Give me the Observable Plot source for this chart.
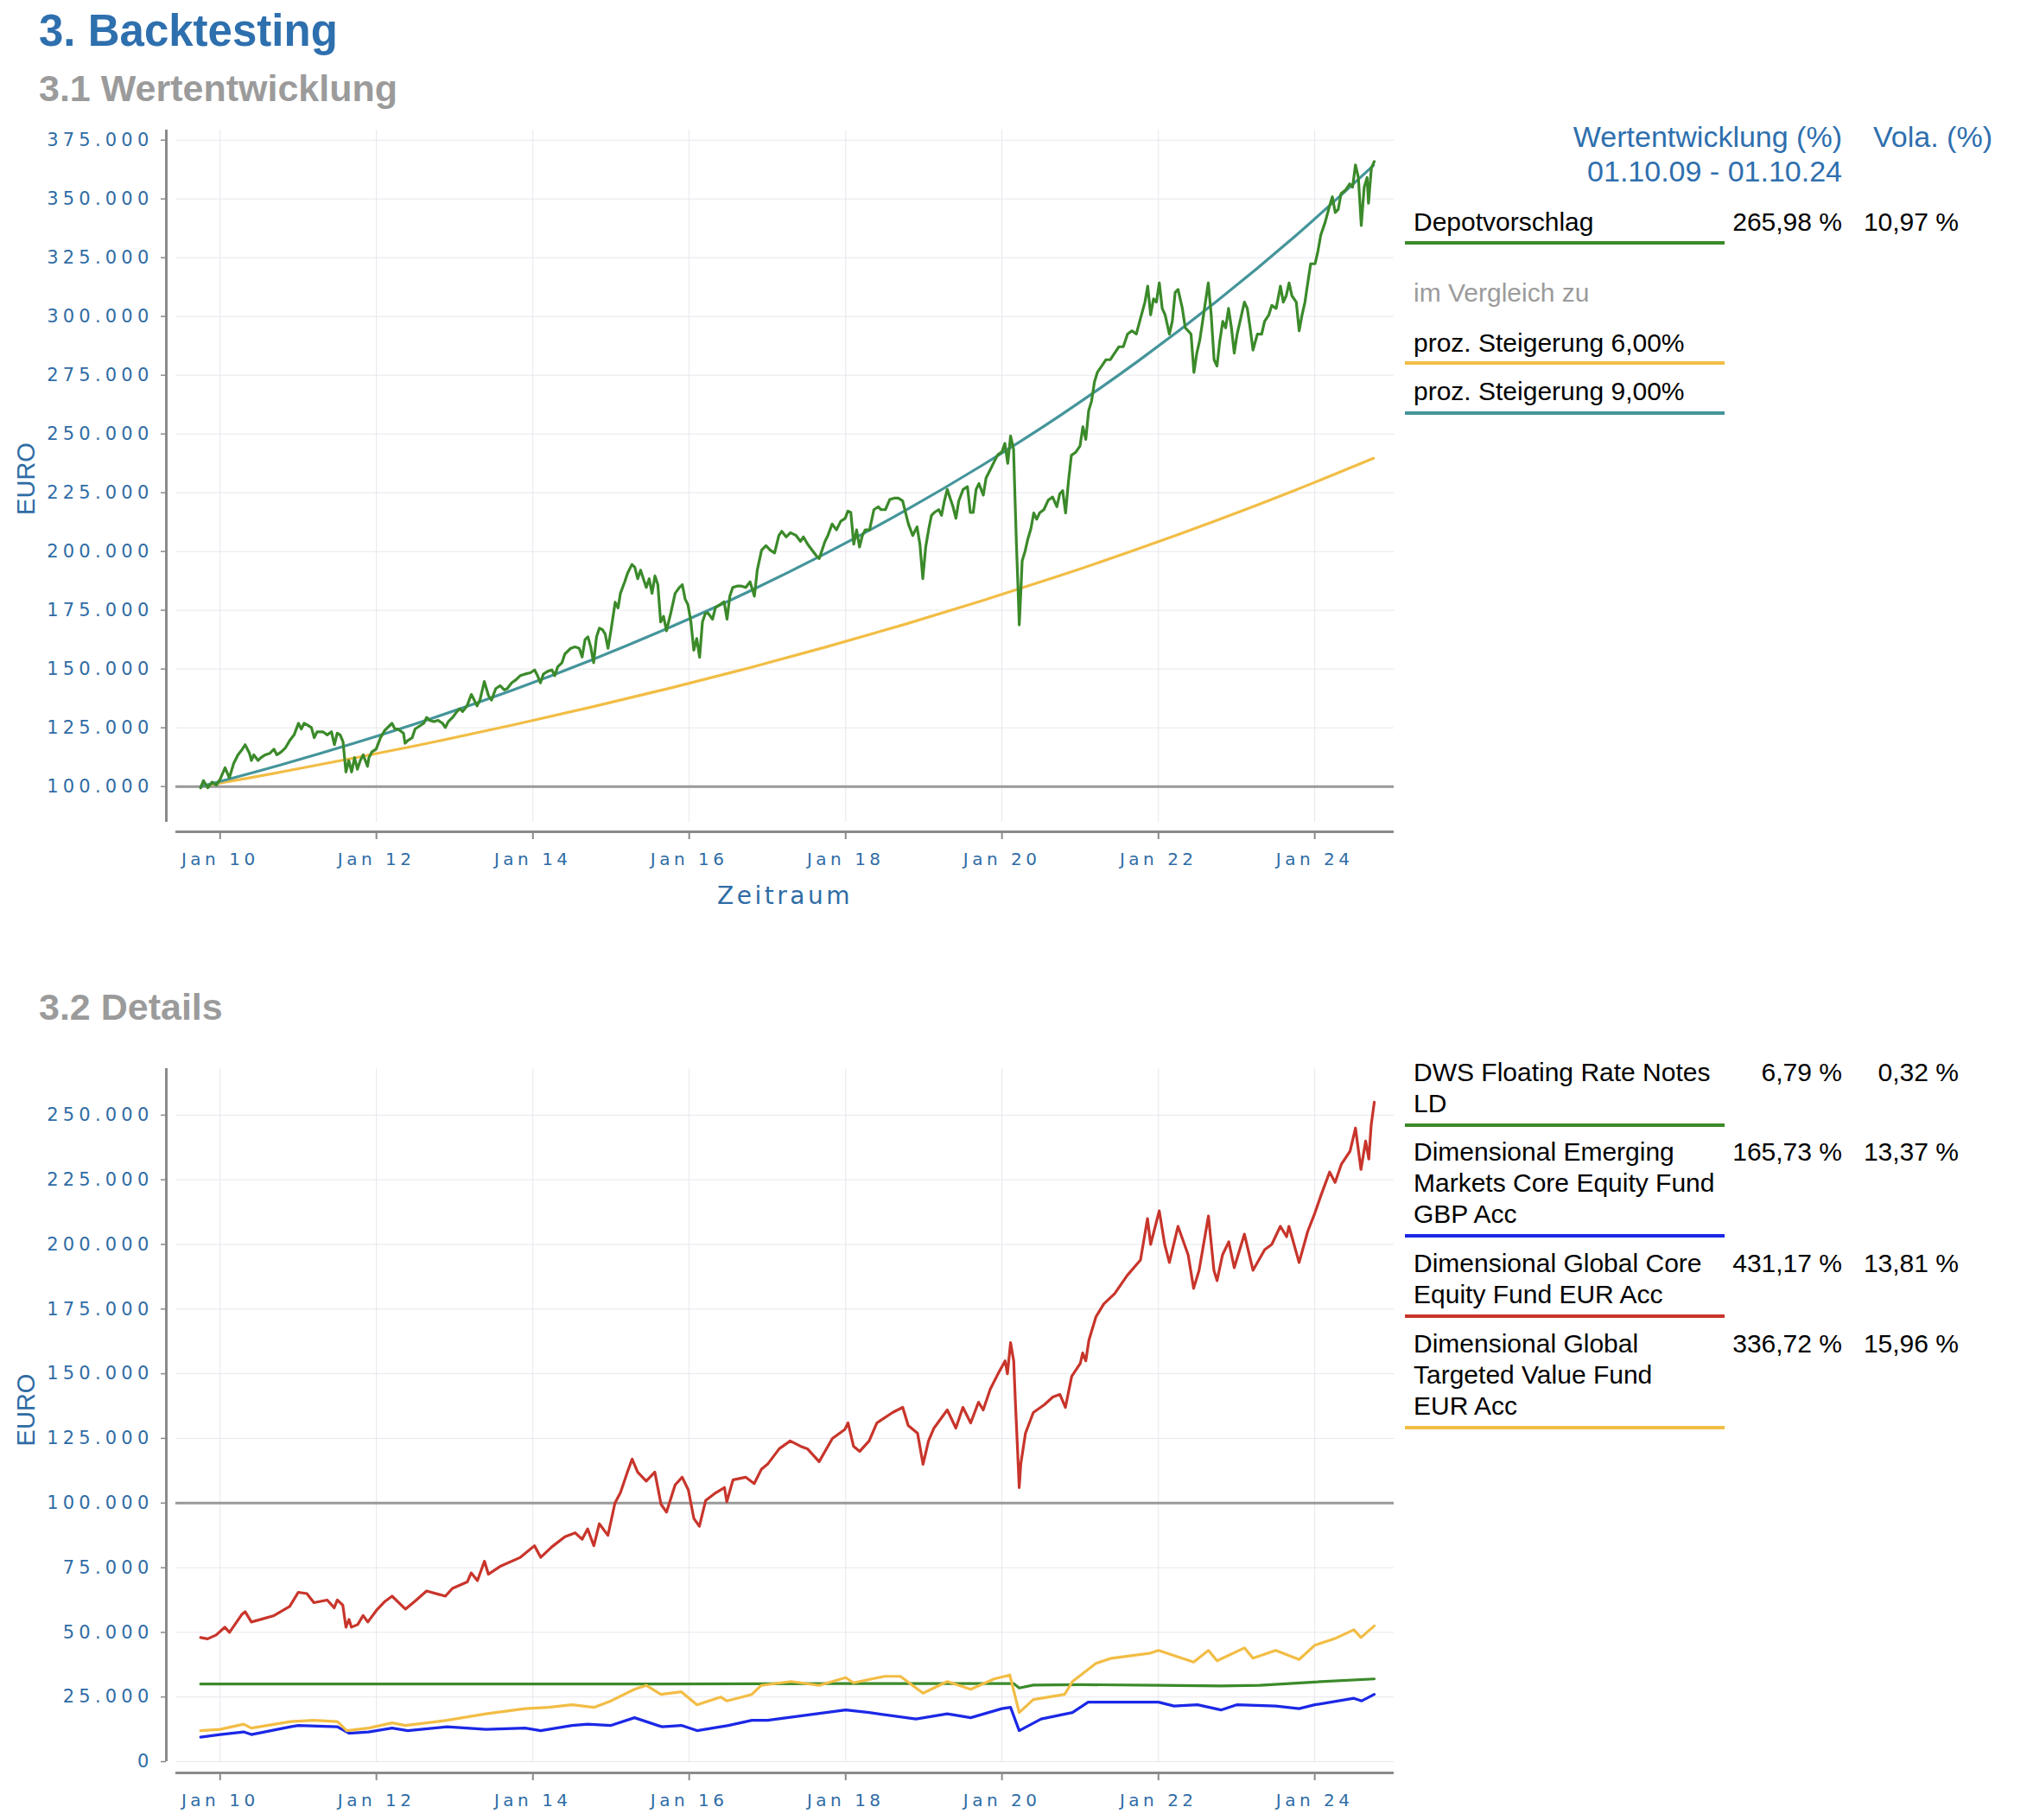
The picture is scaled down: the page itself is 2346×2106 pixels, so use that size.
<!DOCTYPE html>
<html>
<head>
<meta charset="utf-8">
<script src="https://cdn.jsdelivr.net/npm/d3@7"></script>
<script src="https://cdn.jsdelivr.net/npm/@observablehq/plot@0.6"></script>
<style>
  html, body { margin: 0; padding: 0; background: #ffffff; }
  #page { position: relative; width: 2346px; height: 2106px; overflow: hidden; font-family: "Liberation Sans", Arial, Helvetica, sans-serif; }
  .abs { position: absolute; white-space: nowrap; line-height: 1; }
  .chart { position: absolute; left: 0; }
  .chart svg { overflow: visible; }
  .chart g[aria-label="x-axis tick label"] text { letter-spacing: 4.5px; font-family: "DejaVu Sans", Verdana, sans-serif; }
  .chart g[aria-label="y-axis tick label"] text { letter-spacing: 5.2px; font-family: "DejaVu Sans", Verdana, sans-serif; }
  .chart .axislabel text { letter-spacing: 3.5px; font-family: "DejaVu Sans", Verdana, sans-serif; }
</style>
</head>
<body>
<div id="page"></div>
<script>
// ---------------- DATA ----------------
// Depotvorschlag (decimal year, EUR thousands)
const depotT = [2009.750,2009.786,2009.842,2009.897,2009.952,2010.000,2010.063,2010.118,2010.173,2010.228,2010.284,2010.320,2010.376,2010.401,2010.431,2010.486,2010.523,2010.578,2010.634,2010.689,2010.726,2010.781,2010.836,2010.891,2010.947,2011.002,2011.039,2011.075,2011.112,2011.168,2011.204,2011.241,2011.315,2011.370,2011.425,2011.462,2011.499,2011.536,2011.573,2011.610,2011.646,2011.683,2011.720,2011.757,2011.794,2011.831,2011.886,2011.904,2011.941,2011.996,2012.052,2012.107,2012.162,2012.199,2012.236,2012.273,2012.346,2012.365,2012.401,2012.457,2012.494,2012.549,2012.604,2012.641,2012.678,2012.733,2012.788,2012.844,2012.880,2012.917,2012.972,2013.028,2013.064,2013.101,2013.157,2013.212,2013.249,2013.285,2013.322,2013.378,2013.433,2013.470,2013.525,2013.580,2013.635,2013.672,2013.727,2013.783,2013.838,2013.893,2013.967,2014.022,2014.059,2014.096,2014.133,2014.188,2014.243,2014.280,2014.317,2014.372,2014.409,2014.446,2014.483,2014.538,2014.593,2014.630,2014.667,2014.704,2014.740,2014.777,2014.814,2014.851,2014.888,2014.925,2014.961,2014.998,2015.053,2015.090,2015.120,2015.175,2015.212,2015.267,2015.304,2015.341,2015.378,2015.414,2015.451,2015.488,2015.525,2015.562,2015.599,2015.635,2015.672,2015.709,2015.764,2015.820,2015.875,2015.912,2015.948,2015.985,2016.022,2016.059,2016.096,2016.133,2016.169,2016.206,2016.243,2016.298,2016.335,2016.390,2016.446,2016.483,2016.519,2016.556,2016.611,2016.667,2016.722,2016.777,2016.832,2016.869,2016.924,2016.980,2017.035,2017.090,2017.145,2017.182,2017.238,2017.293,2017.366,2017.422,2017.459,2017.514,2017.569,2017.624,2017.661,2017.698,2017.735,2017.772,2017.827,2017.882,2017.937,2017.993,2018.029,2018.066,2018.103,2018.140,2018.177,2018.214,2018.250,2018.306,2018.361,2018.416,2018.453,2018.508,2018.564,2018.619,2018.674,2018.729,2018.766,2018.803,2018.858,2018.913,2018.950,2018.987,2019.024,2019.061,2019.098,2019.134,2019.190,2019.227,2019.263,2019.300,2019.337,2019.374,2019.411,2019.447,2019.503,2019.558,2019.595,2019.632,2019.669,2019.705,2019.761,2019.797,2019.853,2019.908,2019.945,2020.000,2020.037,2020.074,2020.110,2020.148,2020.166,2020.185,2020.203,2020.221,2020.240,2020.258,2020.295,2020.332,2020.369,2020.406,2020.443,2020.480,2020.535,2020.590,2020.646,2020.701,2020.738,2020.775,2020.812,2020.849,2020.886,2020.941,2020.996,2021.033,2021.070,2021.107,2021.144,2021.181,2021.218,2021.273,2021.328,2021.384,2021.439,2021.494,2021.550,2021.605,2021.661,2021.716,2021.771,2021.827,2021.863,2021.900,2021.937,2021.974,2022.011,2022.048,2022.085,2022.140,2022.177,2022.214,2022.251,2022.306,2022.343,2022.380,2022.417,2022.454,2022.491,2022.528,2022.565,2022.601,2022.638,2022.675,2022.712,2022.749,2022.786,2022.823,2022.860,2022.897,2022.934,2022.970,2023.007,2023.044,2023.100,2023.137,2023.173,2023.210,2023.266,2023.321,2023.358,2023.413,2023.450,2023.506,2023.561,2023.598,2023.635,2023.672,2023.708,2023.764,2023.801,2023.838,2023.875,2023.911,2023.948,2024.004,2024.041,2024.077,2024.133,2024.188,2024.225,2024.262,2024.299,2024.336,2024.391,2024.446,2024.483,2024.520,2024.557,2024.594,2024.631,2024.668,2024.686,2024.723,2024.760];
const depotV = [99.4,102.5,99.5,101.9,100.6,103.1,108.0,103.7,109.8,113.5,115.9,117.8,114.1,111.1,113.5,111.1,112.3,113.5,114.1,115.9,113.5,114.7,116.5,119.6,122.0,126.9,124.5,126.9,126.3,125.1,120.8,123.3,123.3,122.0,123.3,117.8,122.7,122.0,119.0,106.2,111.1,106.2,112.3,107.4,111.1,113.5,108.6,112.3,114.7,115.9,120.8,123.9,125.7,126.9,124.5,124.5,122.7,118.4,119.6,120.8,124.5,125.7,126.9,129.4,128.2,127.6,128.2,126.9,125.1,127.6,129.4,131.9,133.1,131.9,134.3,139.2,136.8,134.3,136.8,144.7,138.6,136.8,141.7,142.9,141.1,141.7,144.1,145.4,147.2,147.8,148.4,149.6,147.2,144.1,147.8,149.0,149.6,147.2,150.9,152.7,156.4,157.6,158.8,159.4,158.8,155.1,162.5,163.7,159.4,152.7,163.7,167.4,166.8,164.9,158.8,166.2,178.4,176.0,182.2,187.1,190.8,194.5,193.3,188.4,192.1,188.4,184.7,188.4,182.2,189.6,185.9,170.0,172.4,166.3,173.7,182.2,184.7,185.9,179.8,177.3,170.0,158.0,163.0,155.0,170.0,173.7,173.7,171.2,176.1,177.3,178.6,171.2,181.0,184.7,185.3,185.3,184.7,187.1,181.0,192.1,200.6,202.5,200.6,199.4,206.8,208.6,206.2,208.0,206.8,204.3,206.2,203.1,200.6,198.2,197.0,200.6,204.3,206.8,211.7,209.2,212.9,214.1,217.2,216.6,203.1,209.2,201.9,206.8,209.2,209.2,217.8,219.0,217.8,217.8,222.1,222.7,222.7,221.5,216.6,211.7,206.8,210.5,203.1,188.4,201.9,209.2,215.4,216.6,217.8,215.4,221.5,226.4,222.7,219.0,214.1,221.5,226.4,227.6,216.6,216.6,226.4,228.9,224.0,231.3,235.0,238.7,241.1,242.4,246.0,237.5,249.1,243.6,223.2,202.8,186.5,168.8,182.4,196.0,200.1,205.5,209.6,216.4,213.7,216.4,217.8,221.8,223.2,219.1,224.6,225.9,216.4,230.0,240.9,242.2,244.9,253.1,247.7,259.9,264.0,272.1,276.2,278.9,281.6,281.6,284.4,287.1,287.1,292.5,293.9,292.5,299.3,306.1,312.9,300.7,307.5,306.1,314.3,303.4,300.7,292.5,297.9,310.2,311.5,303.4,295.2,293.9,292.5,276.2,284.4,289.8,297.9,306.1,314.3,300.7,281.6,278.9,289.8,297.9,295.2,303.4,295.2,284.4,292.5,297.9,306.1,303.4,295.2,285.7,292.5,292.5,297.9,300.7,304.7,303.4,312.9,306.1,308.8,314.3,308.8,306.1,293.9,300.7,306.1,314.3,322.4,322.4,327.8,334.6,340.1,346.9,350.9,344.2,345.5,352.3,353.7,356.4,355.0,364.5,359.1,338.7,355.0,359.1,348.2,363.2,365.9];

// Comparison curves (value on 1 Oct of each year, EUR thousands)
const compareT = [2009.75,2010.75,2011.75,2012.75,2013.75,2014.75,2015.75,2016.75,2017.75,2018.75,2019.75,2020.75,2021.75,2022.75,2023.75,2024.75];
const steig6V = [100,106,112.36,119.10,126.25,133.82,141.85,150.36,159.38,168.95,179.08,189.83,201.22,213.29,226.09,239.66];
const steig9V = [100,109,118.81,129.50,141.16,153.86,167.71,182.80,199.26,217.19,236.74,258.04,281.27,306.58,334.17,364.25];

// Details: individual funds (decimal year, EUR thousands)
const dwsT = [2009.75,2012.0,2015.0,2018.0,2020.15,2020.22,2020.4,2021.0,2022.0,2022.8,2023.3,2024.0,2024.76];
const dwsV = [30,30,30,30.2,30.2,28.5,29.6,29.8,29.5,29.3,29.5,30.8,32];

const emT = [2009.75,2010.0,2010.3,2010.4,2010.9,2011.0,2011.5,2011.65,2011.9,2012.2,2012.4,2012.9,2013.4,2013.9,2014.1,2014.5,2014.7,2015.0,2015.3,2015.65,2015.9,2016.1,2016.5,2016.8,2017.0,2017.5,2018.0,2018.3,2018.9,2019.3,2019.6,2020.0,2020.11,2020.22,2020.5,2020.9,2021.1,2021.5,2022.0,2022.2,2022.5,2022.8,2023.0,2023.5,2023.8,2024.0,2024.5,2024.6,2024.76];
const emV = [9.5,10.5,11.5,10.5,13.5,14,13.5,11,11.5,13,12,13.5,12.5,13,12,14,14.5,14,17,13.5,14,12,14,16,16,18,20,19,16.5,18.5,17,20.5,21,12,16.5,19,23,23,23,21.5,22,20,22,21.5,20.5,22,24.5,23.5,26];

const coreT = [2009.75,2009.84,2009.95,2010.06,2010.12,2010.28,2010.32,2010.4,2010.52,2010.69,2010.89,2011.0,2011.11,2011.2,2011.37,2011.46,2011.5,2011.57,2011.61,2011.65,2011.68,2011.76,2011.83,2011.89,2012.0,2012.11,2012.2,2012.37,2012.49,2012.64,2012.88,2012.97,2013.16,2013.21,2013.29,2013.38,2013.43,2013.58,2013.84,2014.02,2014.1,2014.24,2014.41,2014.54,2014.63,2014.7,2014.78,2014.85,2014.96,2015.05,2015.12,2015.21,2015.27,2015.34,2015.45,2015.56,2015.64,2015.71,2015.82,2015.91,2015.99,2016.06,2016.13,2016.21,2016.34,2016.45,2016.48,2016.56,2016.72,2016.83,2016.92,2017.0,2017.15,2017.29,2017.42,2017.51,2017.66,2017.83,2017.99,2018.03,2018.1,2018.18,2018.3,2018.4,2018.6,2018.73,2018.8,2018.92,2018.99,2019.06,2019.13,2019.3,2019.41,2019.5,2019.6,2019.7,2019.76,2019.85,2019.95,2020.04,2020.07,2020.11,2020.15,2020.17,2020.2,2020.22,2020.24,2020.3,2020.4,2020.54,2020.65,2020.74,2020.81,2020.89,2021.0,2021.03,2021.07,2021.11,2021.2,2021.3,2021.44,2021.6,2021.77,2021.86,2021.9,2022.01,2022.08,2022.14,2022.25,2022.38,2022.45,2022.52,2022.64,2022.71,2022.75,2022.82,2022.9,2022.97,2023.1,2023.21,2023.36,2023.45,2023.56,2023.64,2023.67,2023.8,2023.91,2024.0,2024.08,2024.19,2024.26,2024.34,2024.45,2024.52,2024.59,2024.65,2024.69,2024.72,2024.76];
const coreV = [48,47.5,49,52,50,57,58,54,55,56.5,60,65.5,65,61.5,62.5,59.5,62.5,60.5,52,55,52,53,56.5,54,58.5,62,64,59,62,66,64,67,69.5,73,70,77.5,72.5,75.5,79,83.5,79,83,87,88.5,86,90,83.5,92,87.5,100,104,112,117,112,108.5,112,99.5,96.5,107,110,105,94,91,101,104,106,100.5,109,110,107.5,113,115,121,124,122,121,116,125,128.5,131,122,120,124,131,135,137,130,127,115,124,129,136,129,137,131,139,136,144,150,155,150,162,155,140,120,106,115,127,135,138,141,142,137,149,154,158,155,163,172,177,181,188,194,210,200,213,200,193,207,196,183,190,211,190,186,196,201,191,204,190,198,200,207,203,207,193,205,212,219,228,224,231,236,245,229,240,233,246,255];

const tvT = [2009.75,2010.0,2010.3,2010.4,2010.9,2011.2,2011.5,2011.62,2011.9,2012.2,2012.37,2012.9,2013.4,2013.9,2014.2,2014.5,2014.78,2015.0,2015.3,2015.45,2015.64,2015.9,2016.1,2016.4,2016.48,2016.8,2016.92,2017.3,2017.66,2018.0,2018.1,2018.5,2018.7,2018.99,2019.3,2019.6,2019.9,2020.1,2020.22,2020.4,2020.8,2020.9,2021.2,2021.4,2021.9,2022.0,2022.45,2022.64,2022.75,2023.1,2023.21,2023.5,2023.8,2024.0,2024.25,2024.5,2024.59,2024.76];
const tvV = [12,12.5,14.5,13,15.5,16,15.5,12,13,15,14,16,18.5,20.5,21,22,21,23.5,28,29.5,26,27,22,25,23.5,26,29.5,31,29.5,32.5,30.5,33,33,26.5,31,28,32,33.5,19,24,26,31,38,40,42,43,38.5,43,39,44,40,43,39.5,45,47.5,51,48,52.5];

// Axis ticks
const xTickYears = [2010,2012,2014,2016,2018,2020,2022,2024];
const yTicksTop = [100000,125000,150000,175000,200000,225000,250000,275000,300000,325000,350000,375000];
const yTicksBottom = [0,25000,50000,75000,100000,125000,150000,175000,200000,225000,250000];

// Legend texts
const headerReturn = ["Wertentwicklung (%)", "01.10.09 - 01.10.24"];
const headerVola = "Vola. (%)";
const depotName = "Depotvorschlag";
const depotReturn = "265,98 %";
const depotVola = "10,97 %";
const compareLabel = "im Vergleich zu";
const compareNames = ["proz. Steigerung 6,00%", "proz. Steigerung 9,00%"];
const fundNames = [["DWS Floating Rate Notes", "LD"], ["Dimensional Emerging", "Markets Core Equity Fund", "GBP Acc"], ["Dimensional Global Core", "Equity Fund EUR Acc"], ["Dimensional Global", "Targeted Value Fund", "EUR Acc"]];
const fundReturns = ["6,79 %", "165,73 %", "431,17 %", "336,72 %"];
const fundVolas = ["0,32 %", "13,37 %", "13,81 %", "15,96 %"];

// ---------------- STYLE ----------------
const C = {
  title: "#2e6fae", sub: "#9b9b9b", tick: "#2f6ca5", axis: "#8a8a8a", grid: "#e8e6ed", base: "#999999",
  depot: "#3b8a2a", s6: "#f2bd45", s9: "#44959a",
  dws: "#3b8a2a", em: "#1b28e6", core: "#c8352b", tv: "#f2bd45"
};
const FONT = "'Liberation Sans', Arial, Helvetica, sans-serif";

function toDate(t) {
  const y = Math.floor(t);
  const a = Date.UTC(y, 0, 1), b = Date.UTC(y + 1, 0, 1);
  return new Date(a + (t - y) * (b - a));
}
function series(ts, vs) { return ts.map((t, i) => ({date: toDate(t), value: vs[i] * 1000})); }

const de = d3.formatLocale({decimal: ",", thousands: ".", grouping: [3], currency: ["", " €"]});
const fmtEuro = de.format(",d");
const fmtJan = d => "Jan " + String(d.getUTCFullYear()).slice(2);
const xTicks = xTickYears.map(y => new Date(Date.UTC(y, 0, 1)));
const xDomain = [toDate(2009.433), toDate(2025.013)];

const page = document.getElementById("page");

function addText(txt, x, baseline, size, opts = {}) {
  const d = document.createElement("div");
  d.className = "abs";
  d.textContent = txt;
  d.style.fontSize = size + "px";
  d.style.top = (baseline - 0.8465 * size) + "px";
  d.style.color = opts.color || "#000";
  if (opts.bold) d.style.fontWeight = "bold";
  d.style.left = x + "px";
  if (opts.right) d.style.transform = "translateX(-100%)";
  page.appendChild(d);
}
function addBar(x, y, w, color) {
  const d = document.createElement("div");
  d.style.position = "absolute";
  d.style.left = x + "px"; d.style.top = (y - 2) + "px";
  d.style.width = w + "px"; d.style.height = "4px";
  d.style.background = color;
  page.appendChild(d);
}

function chart({yDomain, yTicks, lines, top, height, marginBottom, showXLabel, xAxisDy, labelDy}) {
  const svg = Plot.plot({
    width: 1640, height,
    marginLeft: 203, marginRight: 27, marginTop: 20, marginBottom,
    style: {fontFamily: FONT, background: "transparent", overflow: "visible"},
    x: {type: "utc", domain: xDomain},
    y: {domain: yDomain},
    marks: [
      Plot.gridX(xTicks, {stroke: C.grid, strokeOpacity: 1, strokeWidth: 1}),
      Plot.gridY(yTicks.filter(v => v !== 100000), {stroke: C.grid, strokeOpacity: 1, strokeWidth: 1}),
      Plot.ruleY([100000], {stroke: C.base, strokeWidth: 3}),
      ...lines.map(l => Plot.line(l.data, {x: "date", y: "value", stroke: l.color, strokeWidth: 3.2, strokeLinejoin: "round", curve: l.curve || "linear"})),
      Plot.ruleX([xDomain[0]], {dx: -11, stroke: C.axis, strokeWidth: 3}),
      Plot.ruleY([yDomain[0]], {dy: xAxisDy, stroke: C.axis, strokeWidth: 3}),
      Plot.axisY(yTicks, {tickSize: 6, dx: -11, tickPadding: 9, tickFormat: fmtEuro, stroke: C.axis, strokeWidth: 1.5, fill: C.tick, fontSize: 21, label: null}),
      Plot.axisX(xTicks, {tickSize: 9, dy: xAxisDy, tickPadding: 15, tickFormat: fmtJan, stroke: C.axis, strokeWidth: 2, fill: C.tick, fontSize: 20, label: null}),
      Plot.text(["EURO"], {frameAnchor: "left", textAnchor: "middle", lineAnchor: "middle", dx: -173, dy: labelDy, rotate: -90, fontSize: 29, fill: C.tick}),
      showXLabel ? Plot.text(["Zeitraum"], {frameAnchor: "bottom", textAnchor: "middle", lineAnchor: "middle", dy: 86, fontSize: 28, fill: C.tick, className: "axislabel"}) : null
    ].filter(Boolean)
  });
  const wrap = document.createElement("div");
  wrap.className = "chart";
  wrap.style.top = top + "px";
  wrap.appendChild(svg);
  page.appendChild(wrap);
}

// ---------------- TITLES ----------------
addText("3. Backtesting", 45, 53, 51, {bold: true, color: C.title});
addText("3.1 Wertentwicklung", 45, 117, 43, {bold: true, color: C.sub});
addText("3.2 Details", 45, 1180, 43, {bold: true, color: C.sub});

// ---------------- TOP CHART ----------------
chart({
  yDomain: [84800, 379300], yTicks: yTicksTop, top: 130, height: 940, marginBottom: 119, showXLabel: true, xAxisDy: 11, labelDy: 3,
  lines: [
    {data: series(compareT, steig6V), color: C.s6, curve: "catmull-rom"},
    {data: series(compareT, steig9V), color: C.s9, curve: "catmull-rom"},
    {data: series(depotT, depotV), color: C.depot}
  ]
});

// ---------------- BOTTOM CHART ----------------
chart({
  yDomain: [0, 268000], yTicks: yTicksBottom, top: 1216, height: 890, marginBottom: 68, showXLabel: false, xAxisDy: 13, labelDy: -6,
  lines: [
    {data: series(dwsT, dwsV), color: C.dws},
    {data: series(emT, emV), color: C.em},
    {data: series(coreT, coreV), color: C.core},
    {data: series(tvT, tvV), color: C.tv}
  ]
});

// ---------------- LEGENDS ----------------
const LX = 1636, BAR_X = 1626, BAR_W = 370, RET_R = 2132, VOL_R = 2267;
addText(headerReturn[0], RET_R, 170, 34, {color: C.title, right: true});
addText(headerReturn[1], RET_R, 210, 34, {color: C.title, right: true});
addText(headerVola, 2306, 170, 34, {color: C.title, right: true});

addText(depotName, LX, 267, 30);
addText(depotReturn, RET_R, 267, 30, {right: true});
addText(depotVola, VOL_R, 267, 30, {right: true});
addBar(BAR_X, 280.5, BAR_W, C.depot);

addText(compareLabel, LX, 349, 30, {color: C.sub});
addText(compareNames[0], LX, 407, 30);
addBar(BAR_X, 420, BAR_W, C.s6);
addText(compareNames[1], LX, 463, 30);
addBar(BAR_X, 477.5, BAR_W, C.s9);

const fundColors = [C.dws, C.em, C.core, C.tv];
const fundBase = [1251, 1343, 1472, 1565];
fundNames.forEach((lines, i) => {
  lines.forEach((ln, j) => addText(ln, LX, fundBase[i] + j * 36, 30));
  addText(fundReturns[i], RET_R, fundBase[i], 30, {right: true});
  addText(fundVolas[i], VOL_R, fundBase[i], 30, {right: true});
  addBar(BAR_X, fundBase[i] + (lines.length - 1) * 36 + 14.5, BAR_W, fundColors[i]);
});
</script>
</body>
</html>
